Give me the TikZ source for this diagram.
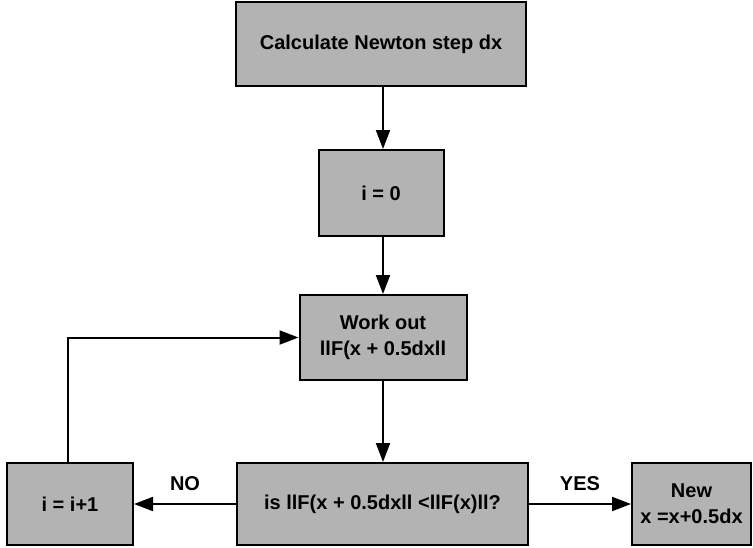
\documentclass[tikz,border=0pt]{standalone}
\usepackage{fontspec}
\setmainfont{Liberation Sans}
\usetikzlibrary{arrows.meta}
\definecolor{boxgray}{HTML}{B3B3B3}
\begin{document}
\begin{tikzpicture}[x=1pt,y=-1pt,
  box/.style={draw=black,line width=2pt,fill=boxgray,rectangle,align=center,
    font=\fontsize{20}{26}\selectfont\bfseries,inner sep=0pt},
  conn/.style={line width=2pt,-{Triangle[length=19pt,width=14pt]}},
  lbl/.style={font=\fontsize{20}{24}\selectfont\bfseries,inner sep=0pt}]
\useasboundingbox (0,0) rectangle (753,547);
\node[box,minimum width=290pt,minimum height=84pt] (calc) at (381,44) {Calculate Newton step dx};
\node[box,minimum width=125pt,minimum height=86pt] (izero) at (381,193) {i = 0};
\node[box,minimum width=167pt,minimum height=85pt] (work) at (383,337.5) {Work out\\llF(x + 0.5dxll};
\node[box,minimum width=291pt,minimum height=82pt] (test) at (382.5,504) {is llF(x + 0.5dxll <llF(x)ll?};
\node[box,minimum width=126pt,minimum height=82pt] (inc) at (70,504) {i = i+1};
\node[box,minimum width=119pt,minimum height=82pt] (new) at (691.5,504) {New\\x =x+0.5dx};
\coordinate (cx) at (383,0);
\draw[conn] (calc.south -| cx) -- (izero.north -| cx);
\draw[conn] (izero.south -| cx) -- (work.north -| cx);
\draw[conn] (work.south -| cx) -- (test.north -| cx);
\draw[conn] (test.west) -- (inc.east);
\draw[conn] (test.east) -- (new.west);
\coordinate (fx) at (68,0);
\draw[conn] (inc.north -| fx) |- (work.west);
\node[lbl] (no) at (185,484) {NO};
\node[lbl] (yes) at (580,484) {YES};
\end{tikzpicture}
\end{document}
